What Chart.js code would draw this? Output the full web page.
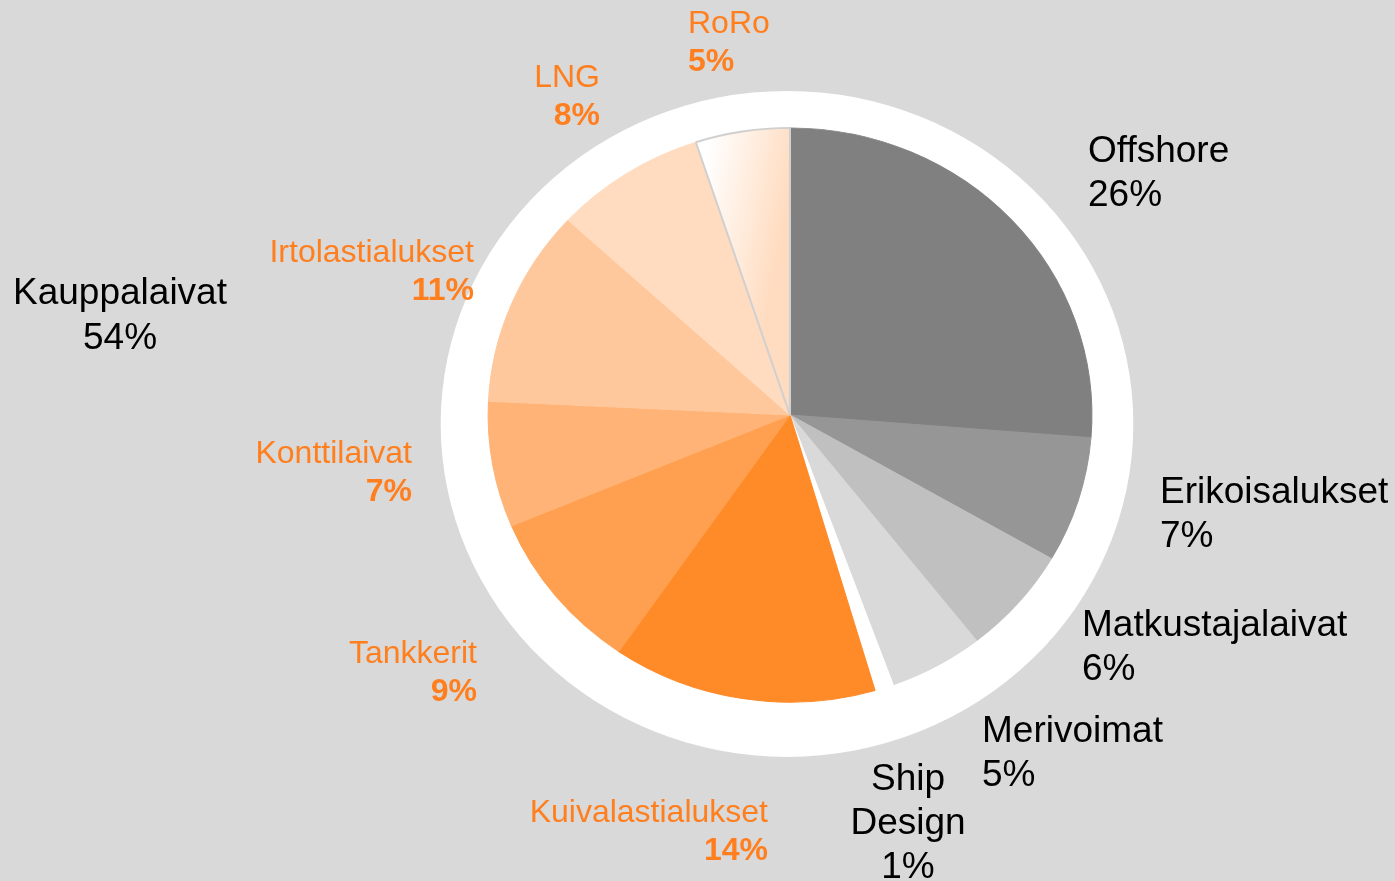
<!DOCTYPE html>
<html>
<head>
<meta charset="utf-8">
<title>Laivatyypit</title>
<script src="https://cdn.jsdelivr.net/npm/chart.js@4.4.1/dist/chart.umd.min.js"></script>
<style>
  html, body { margin: 0; padding: 0; background: #d9d9d9; overflow: hidden; }
  #wrap { width: 1395px; height: 881px; }
</style>
</head>
<body>
<div id="wrap"><canvas id="pie" width="1395" height="881"></canvas></div>
<script>
// data
const categories = ["Offshore", "Erikoisalukset", "Matkustajalaivat", "Merivoimat", "Ship Design",
  "Kuivalastialukset", "Tankkerit", "Konttilaivat", "Irtolastialukset", "LNG", "RoRo"];
const shares = [26, 7, 6, 5, 1, 14, 9, 7, 11, 8, 5];
const merchantLabel = "Kauppalaivat";
const merchantIdx = [5, 6, 7, 8, 9, 10];

// colours
const sliceColors = ["#808080", "#969696", "#c0c0c0", "#d9d9d9", "#ffffff",
  "#ff8a28", "#ffa050", "#ffb376", "#ffc89c", "#ffdcc0", "gradient"];
const greyText = "#000000";
const orangeText = "#ff7f1f";

// label placement, offsets from pie centre (px): dx, first baseline dy, align
const labelLayout = [
  [298, -253, "left"],
  [370, 88, "left"],
  [292, 221, "left"],
  [192, 327, "left"],
  [118, 375, "center"],
  [-22, 407, "right"],
  [-313, 248, "right"],
  [-378, 48, "right"],
  [-316, -153, "right"],
  [-190, -328, "right"],
  [-102, -382, "left"]
];
const merchantLayout = [-670, -111, "center"];

// pie is drawn a little wider than tall, like the original
const stretchX = 1.02, stretchY = 0.97;

function sliceFill(c) {
  const col = sliceColors[c.dataIndex];
  if (col !== "gradient") return col;
  const area = c.chart.chartArea;
  if (!area) return "#ffdcc0";
  const cx = (area.left + area.right) / 2, cy = (area.top + area.bottom) / 2;
  const g = c.chart.ctx.createLinearGradient(cx - 85, cy - 250, cx, cy - 235);
  g.addColorStop(0, "#ffffff");
  g.addColorStop(1, "#ffdcc0");
  return g;
}

// white ring behind the pie, then stretch for the slices
const ringPlugin = {
  id: "ring",
  beforeDatasetsDraw(chart) {
    const a = chart.getDatasetMeta(0).data[0];
    if (!a) return;
    const R = a.outerRadius;
    const ctx = chart.ctx;
    ctx.save();
    ctx.fillStyle = "#ffffff";
    ctx.beginPath();
    ctx.ellipse(a.x - 3, a.y + R * 0.03, R * 1.17, R * 1.125, 0, 0, Math.PI * 2);
    ctx.fill();
    ctx.restore();
    ctx.save();
    ctx.translate(a.x, a.y);
    ctx.scale(stretchX, stretchY);
    ctx.translate(-a.x, -a.y);
  },
  afterDatasetsDraw(chart) {
    chart.ctx.restore();
  }
};

const labelPlugin = {
  id: "sliceLabels",
  afterDraw(chart) {
    const a = chart.getDatasetMeta(0).data[0];
    const cx = a.x, cy = a.y;
    const ctx = chart.ctx;
    ctx.save();
    ctx.textBaseline = "alphabetic";
    categories.forEach((name, i) => {
      const [dx, dy, align] = labelLayout[i];
      const orange = merchantIdx.includes(i);
      ctx.textAlign = align;
      const lines = i === 4 ? name.split(" ") : [name];
      lines.push(shares[i] + "%");
      const step = orange ? 38 : 44;
      lines.forEach((t, k) => {
        const isPct = k === lines.length - 1;
        if (orange) {
          ctx.fillStyle = orangeText;
          ctx.font = (isPct ? "bold " : "") + "32px 'Liberation Sans', Arial, sans-serif";
        } else {
          ctx.fillStyle = greyText;
          ctx.font = "37px 'Liberation Sans', Arial, sans-serif";
        }
        ctx.fillText(t, cx + dx, cy + dy + k * step);
      });
    });
    const total = merchantIdx.reduce((s, i) => s + shares[i], 0);
    ctx.fillStyle = greyText;
    ctx.font = "37px 'Liberation Sans', Arial, sans-serif";
    ctx.textAlign = merchantLayout[2];
    ctx.fillText(merchantLabel, cx + merchantLayout[0], cy + merchantLayout[1]);
    ctx.fillText(total + "%", cx + merchantLayout[0], cy + merchantLayout[1] + 45);
    ctx.restore();
  }
};

new Chart(document.getElementById("pie"), {
  type: "pie",
  data: {
    labels: categories,
    datasets: [{
      data: shares,
      backgroundColor: sliceFill,
      borderColor: sliceColors.map(c => c === "gradient" ? "#d0d0d0" : c),
      borderWidth: sliceColors.map(c => c === "gradient" ? 2 : 1),
      hoverOffset: 0
    }]
  },
  options: {
    responsive: false,
    animation: false,
    devicePixelRatio: 1,
    radius: 296,
    layout: { padding: { left: 450, right: 265, top: 75, bottom: 126 } },
    plugins: {
      legend: { display: false },
      tooltip: { enabled: false }
    }
  },
  plugins: [ringPlugin, labelPlugin]
});
</script>
</body>
</html>
